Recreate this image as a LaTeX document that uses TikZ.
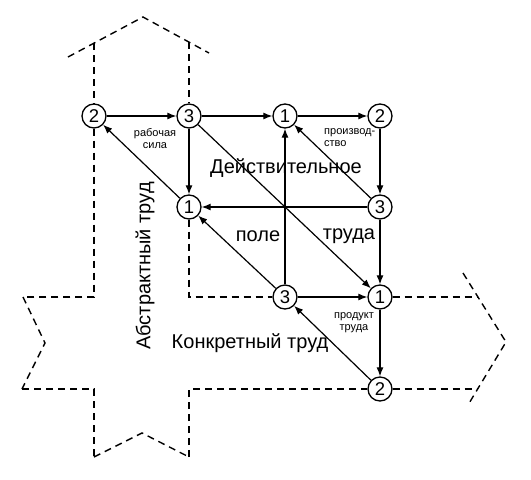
\documentclass[tikz,border=0pt]{standalone}
\usepackage{fontspec}
\setmainfont{Liberation Sans}
\usetikzlibrary{arrows.meta}
\begin{document}
\begin{tikzpicture}[x=1pt,y=-1pt,
  st/.style={circle,draw,line width=1.3pt,minimum size=24pt,inner sep=0pt,font=\fontsize{18.5}{20}\selectfont},
  arr/.style={line width=1.2pt,-{Latex[length=9pt,width=7pt]}},
  dsh/.style={line width=1.4pt,dash pattern=on 7pt off 5pt},
  big/.style={font=\fontsize{20}{22}\selectfont,inner sep=0pt},
  small/.style={font=\fontsize{11}{12}\selectfont,inner sep=0pt,align=center}]
\useasboundingbox (0,0) rectangle (531,480);
% nodes
\node[st] (A2) at (94,116) {2};
\node[st] (A3) at (189,116) {3};
\node[st] (B1) at (285,116) {1};
\node[st] (B2) at (380,116) {2};
\node[st] (C1) at (189,207) {1};
\node[st] (C3) at (380,207) {3};
\node[st] (D3) at (285,297) {3};
\node[st] (D1) at (380,297) {1};
\node[st] (E2) at (380,389) {2};
% dashed outline coordinates
\coordinate (r1) at (68,57);
\coordinate (r2) at (143,17);
\coordinate (r3) at (209,53);
\coordinate (rL) at (94,43);
\coordinate (rR) at (189,42);
\coordinate (k1) at (94,297);
\coordinate (k2) at (23,297);
\coordinate (k3) at (45,343);
\coordinate (k4) at (22,389);
\coordinate (k5) at (94,389);
\coordinate (b1) at (94,457);
\coordinate (b2) at (142,433);
\coordinate (b3) at (189,457);
\coordinate (b4) at (189,389);
\coordinate (i1) at (189,297);
\coordinate (h1) at (478,297);
\coordinate (h2) at (477,389);
\coordinate (p1) at (463,273);
\coordinate (p2) at (506,342);
\coordinate (p3) at (468,405);
% dashed outline
\draw[dsh] (r1) -- (r2) -- (r3);
\draw[dsh] (rL) -- (A2);
\draw[dsh] (rR) -- (A3);
\draw[dsh] (A2) -- (k1) -- (k2);
\draw[dsh] (k2) -- (k3) -- (k4);
\draw[dsh] (k4) -- (k5) -- (b1);
\draw[dsh] (b1) -- (b2) -- (b3);
\draw[dsh] (b3) -- (b4) -- (E2);
\draw[dsh] (E2) -- (h2);
\draw[dsh] (C1) -- (i1) -- (D3);
\draw[dsh] (D1) -- (h1);
\draw[dsh] (p1) -- (p2) -- (p3);
% arrows
\draw[arr] (A2) -- (A3);
\draw[arr] (A3) -- (B1);
\draw[arr] (B1) -- (B2);
\draw[arr] (B2) -- (C3);
\draw[arr] (C3) -- (B1);
\draw[arr] (C3) -- (C1);
\draw[arr] (A3) -- (C1);
\draw[arr] (C1) -- (A2);
\draw[arr] (A3) -- (D1);
\draw[arr] (D3) -- (B1);
\draw[arr] (D3) -- (C1);
\draw[arr] (C3) -- (D1);
\draw[arr] (D3) -- (D1);
\draw[arr] (D1) -- (E2);
\draw[arr] (E2) -- (D3);
% labels
\node[small] (l1) at (155,139) {рабочая\\сила};
\node[small,align=left,anchor=west] (l2) at (324,137.5) {производ-\\ство};
\node[small] (l3) at (354,322.5) {продукт\\труда};
\node[big] (t1) at (286,168) {Действительное};
\node[big] (t2) at (258,236) {поле};
\node[big] (t3) at (349,236) {труда};
\node[big,rotate=90] (t4) at (145,266) {Абстрактный труд};
\node[big] (t5) at (250,343) {Конкретный труд};
\end{tikzpicture}
\end{document}
